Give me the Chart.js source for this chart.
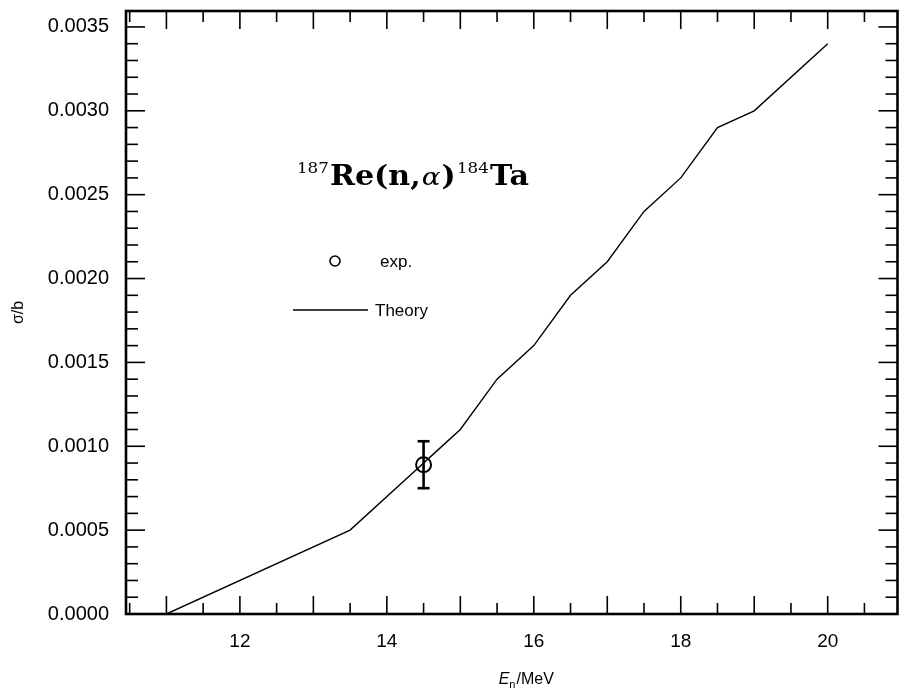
<!DOCTYPE html>
<html>
<head>
<meta charset="utf-8">
<script src="https://cdn.jsdelivr.net/npm/chart.js@4.4.1/dist/chart.umd.min.js"></script>
<style>
    html, body { margin: 0; padding: 0; background: #fff; }
    #wrap { width: 907px; height: 700px; }
</style>
</head>
<body>
<div id="wrap"><canvas id="myChart" width="907" height="700"></canvas></div>
<script>
// theory curve
const theoryE = [11, 13.5, 14.4, 14.7, 15, 15.5, 16, 16.5, 17, 17.5, 18, 18.5, 19, 20]
const theorySigma = [0, 0.0005, 0.00086, 0.00098, 0.0011, 0.0014, 0.0016, 0.0019, 0.0021, 0.0024, 0.0026, 0.0029, 0.0030, 0.0034]

// experimental point
const expE = [14.5]
const expSigma = [0.00089]
const expErr = [0.00014]

// axes
const xLabels = [12, 14, 16, 18, 20]
const xMajor = [11, 12, 13, 14, 15, 16, 17, 18, 19, 20]
const yLabels = ['0.0000', '0.0005', '0.0010', '0.0015', '0.0020', '0.0025', '0.0030', '0.0035']
const yMinorStep = 0.0001

const font = 'Liberation Sans, Arial, sans-serif'
const serif = 'DejaVu Serif, Liberation Serif, serif'

const line = (ctx, x1, y1, x2, y2) => {
    ctx.beginPath()
    ctx.moveTo(x1, y1)
    ctx.lineTo(x2, y2)
    ctx.stroke()
}

const frameAndTicks = {
    id: 'frameAndTicks',
    afterDraw(chart) {
        const { ctx, chartArea: a, scales: { x, y } } = chart
        ctx.save()
        ctx.strokeStyle = '#000'
        ctx.lineWidth = 1.6
        x.ticks.forEach(t => {
            const px = x.getPixelForValue(t.value)
            const len = xMajor.includes(t.value) ? 18 : 11
            line(ctx, px, a.bottom, px, a.bottom - len)
            line(ctx, px, a.top, px, a.top + len)
        })
        y.ticks.forEach(t => {
            const py = y.getPixelForValue(t.value)
            const len = Math.round(t.value * 10000) % 5 === 0 ? 19 : 12
            line(ctx, a.left, py, a.left + len, py)
            line(ctx, a.right, py, a.right - len, py)
        })
        ctx.lineWidth = 2.6
        ctx.strokeRect(a.left, a.top, a.right - a.left, a.bottom - a.top)

        // x axis title: E_n/MeV
        ctx.fillStyle = '#000'
        ctx.textBaseline = 'alphabetic'
        const cx = (a.left + a.right) / 2 + 14
        const by = 684
        ctx.font = 'italic 16px ' + font
        const wE = ctx.measureText('E').width
        ctx.font = '11px ' + font
        const wn = ctx.measureText('n').width
        ctx.font = '16px ' + font
        const wM = ctx.measureText('/MeV').width
        let sx = cx - (wE + wn + wM) / 2
        ctx.font = 'italic 16px ' + font
        ctx.fillText('E', sx, by)
        ctx.font = '11px ' + font
        ctx.fillText('n', sx + wE, by + 4)
        ctx.font = '16px ' + font
        ctx.fillText('/MeV', sx + wE + wn + 1, by)
        ctx.restore()
    }
}

const errorBars = {
    id: 'errorBars',
    afterDatasetsDraw(chart) {
        const { ctx, scales: { x, y } } = chart
        ctx.save()
        ctx.strokeStyle = '#000'
        ctx.lineWidth = 2.6
        expE.forEach((e, i) => {
            const px = x.getPixelForValue(e)
            const top = y.getPixelForValue(expSigma[i] + expErr[i])
            const bot = y.getPixelForValue(expSigma[i] - expErr[i])
            line(ctx, px, top, px, bot)
            line(ctx, px - 6, top, px + 6, top)
            line(ctx, px - 6, bot, px + 6, bot)
        })
        ctx.restore()
    }
}

const annotations = {
    id: 'annotations',
    afterDraw(chart) {
        const ctx = chart.ctx
        ctx.save()
        ctx.fillStyle = '#000'
        ctx.strokeStyle = '#000'
        ctx.textBaseline = 'alphabetic'

        // title 187Re(n,α)184Ta, stretched to the reference width
        const parts = [
            { t: '187', f: '15px ' + serif, dy: -12 },
            { t: 'Re(n,', f: 'bold 27px ' + serif, dy: 0 },
            { t: 'α', f: 'italic 25px ' + serif, dy: 0 },
            { t: ')', f: 'bold 27px ' + serif, dy: 0 },
            { t: '184', f: '15px ' + serif, dy: -12 },
            { t: 'Ta', f: 'bold 27px ' + serif, dy: 0 }
        ]
        let total = 0
        parts.forEach(p => {
            ctx.font = p.f
            total += ctx.measureText(p.t).width + 1
        })
        const k = 233 / total
        ctx.translate(297, 185)
        ctx.scale(k, 1)
        let tx = 0
        parts.forEach(p => {
            ctx.font = p.f
            ctx.fillText(p.t, tx, p.dy)
            tx += ctx.measureText(p.t).width + 1
        })
        ctx.setTransform(1, 0, 0, 1, 0, 0)

        // legend
        ctx.lineWidth = 1.6
        ctx.beginPath()
        ctx.arc(335, 261, 5, 0, Math.PI * 2)
        ctx.stroke()
        ctx.font = '17px ' + font
        ctx.textBaseline = 'middle'
        ctx.fillText('exp.', 380, 262)
        ctx.lineWidth = 1.3
        line(ctx, 293, 310, 368, 310)
        ctx.fillText('Theory', 375, 311)
        ctx.restore()
    }
}

const config = {
    type: 'scatter',
    data: {
        datasets: [{
            label: 'Theory',
            data: theoryE.map((e, i) => ({ x: e, y: theorySigma[i] })),
            showLine: true,
            borderColor: '#000',
            borderWidth: 1.4,
            pointRadius: 0,
            tension: 0
        }, {
            label: 'exp.',
            data: expE.map((e, i) => ({ x: e, y: expSigma[i] })),
            pointStyle: 'circle',
            pointRadius: 7.5,
            pointBorderWidth: 2,
            pointBorderColor: '#000',
            pointBackgroundColor: 'rgba(0,0,0,0)'
        }]
    },
    options: {
        responsive: false,
        animation: false,
        layout: { padding: { left: 0, right: 5, top: 11, bottom: 0 } },
        plugins: { legend: { display: false }, tooltip: { enabled: false } },
        scales: {
            x: {
                type: 'linear',
                min: 10.45,
                max: 20.95,
                grid: { display: false, drawTicks: false },
                border: { display: false },
                afterBuildTicks: s => {
                    s.ticks = []
                    xMajor.forEach(v => {
                        s.ticks.push({ value: v })
                        if (v < 20) s.ticks.push({ value: v + 0.5 })
                    })
                    s.ticks.unshift({ value: 10.5 })
                    s.ticks.push({ value: 20.5 })
                },
                afterFit: s => {
                    s.height = 86
                    s.paddingLeft = 0
                    s.paddingRight = 0
                },
                ticks: {
                    autoSkip: false,
                    maxRotation: 0,
                    padding: 16,
                    color: '#000',
                    font: { family: font, size: 19 },
                    callback: v => xLabels.includes(v) ? String(v) : ''
                }
            },
            y: {
                min: 0,
                max: 0.003595,
                grid: { display: false, drawTicks: false },
                border: { display: false },
                afterBuildTicks: s => {
                    s.ticks = []
                    for (let i = 0; i <= 35; i++) s.ticks.push({ value: i * yMinorStep })
                },
                afterFit: s => {
                    s.width = 126
                    s.paddingTop = 0
                    s.paddingBottom = 0
                },
                ticks: {
                    autoSkip: false,
                    padding: 17,
                    color: '#000',
                    font: { family: font, size: 20 },
                    callback: (v, i) => i % 5 === 0 ? yLabels[i / 5] : ''
                },
                title: {
                    display: true,
                    text: 'σ/b',
                    color: '#000',
                    font: { family: font, size: 16 },
                    padding: { top: 9, bottom: 0 }
                }
            }
        }
    },
    plugins: [errorBars, frameAndTicks, annotations]
}

const myChart = new Chart(document.getElementById('myChart'), config)
</script>
</body>
</html>
